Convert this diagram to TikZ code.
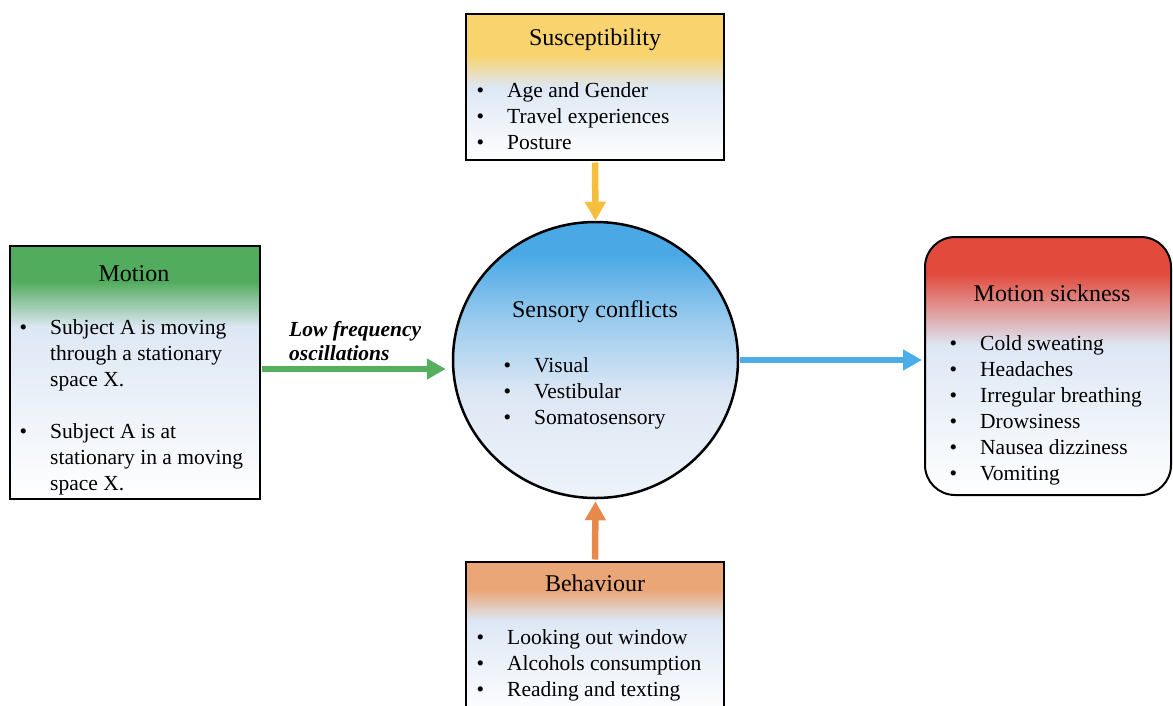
\documentclass[tikz,border=0pt]{standalone}
\usepackage{fontspec}
\setmainfont{Liberation Serif}
\usetikzlibrary{arrows.meta,shapes.geometric,positioning}

\definecolor{suscyellow}{HTML}{F9D46E}
\definecolor{motgreen}{HTML}{52AC5D}
\definecolor{sickred}{HTML}{E24A3C}
\definecolor{behorange}{HTML}{EAA677}
\definecolor{conflblue}{HTML}{4AA9E5}
\definecolor{paleblue}{HTML}{DDE7F4}
\definecolor{arryellow}{HTML}{F6BE3D}
\definecolor{arrorange}{HTML}{E8894C}
\definecolor{arrgreen}{HTML}{56AE5F}
\definecolor{arrblue}{HTML}{4CAEE9}

% box fills: colour band at the top, pale blue to white below
\pgfdeclareverticalshading{suscshade}{100bp}{color(0bp)=(white); color(25bp)=(white); color(50bp)=(paleblue); color(61bp)=(suscyellow); color(100bp)=(suscyellow)}
\pgfdeclareverticalshading{motionshade}{100bp}{color(0bp)=(white); color(25bp)=(white); color(59bp)=(paleblue); color(68bp)=(motgreen); color(100bp)=(motgreen)}
\pgfdeclareverticalshading{sickshade}{100bp}{color(0bp)=(white); color(25bp)=(white); color(54bp)=(paleblue); color(61bp)=(sickred!50!paleblue); color(68bp)=(sickred); color(100bp)=(sickred)}
\pgfdeclareverticalshading{behavshade}{100bp}{color(0bp)=(white); color(25bp)=(white); color(56bp)=(paleblue); color(66bp)=(behorange); color(100bp)=(behorange)}
\pgfdeclareverticalshading{conflshade}{100bp}{color(0bp)=(paleblue!50!white); color(25bp)=(paleblue!50!white); color(44bp)=(paleblue); color(57bp)=(conflblue!45!paleblue); color(69bp)=(conflblue); color(100bp)=(conflblue)}

\newcommand\bu{\llap{\textbullet\hspace{23pt}}}

\begin{document}
\begin{tikzpicture}[
    x=1pt, y=-1pt,
    box/.style={draw=black, line width=2pt, shade, inner sep=0pt},
    flow/.style={line width=6.5pt, -{Triangle[length=19pt,width=20pt]}},
    title/.style={font=\fontsize{24}{28}\selectfont, anchor=base, inner sep=0pt},
    entry/.style={font=\fontsize{21.5}{26}\selectfont, anchor=base west, inner sep=0pt}
    ]
\useasboundingbox (0,0) rectangle (1173,705);
\clip (0,0) rectangle (1173,705);

\node[box, shading=suscshade, minimum width=258pt, minimum height=146pt] (susc) at (595,87) {};
\node[box, shading=motionshade, minimum width=250pt, minimum height=253pt] (motion) at (135,372.5) {};
\node[box, ellipse, line width=2.5pt, shading=conflshade, minimum width=285pt, minimum height=276pt] (confl) at (595.5,360) {};
\node[box, rounded corners=30pt, shading=sickshade, minimum width=246pt, minimum height=258pt] (sick) at (1048,366) {};
\node[box, shading=behavshade, minimum width=258pt, minimum height=154pt] (behav) at (595,639) {};

\coordinate (g-start) at ([yshift=3.5pt]motion.east);
\draw[flow, arrgreen, shorten <=1pt, shorten >=6pt] (g-start) -- (g-start -| confl.west);
\draw[flow, arryellow, shorten <=1.5pt] (susc.south) -- (confl.north);
\draw[flow, arrorange, shorten <=1.5pt, shorten >=2pt] (behav.north) -- (confl.south);
\draw[flow, arrblue, shorten <=1pt, shorten >=2pt] (confl.east) -- (confl.east -| sick.west);

\node[font=\fontsize{21.5}{24}\selectfont\bfseries\itshape, align=left, anchor=north west, inner sep=0pt] (lowfreq) at (289,321.5) {Low frequency\\oscillations};

\node[title] (susc-title) at (595,45) {Susceptibility};
\node[title] (motion-title) at (134,281) {Motion};
\node[title] (confl-title) at (595,317) {Sensory conflicts};
\node[title] (sick-title) at (1052,301) {Motion sickness};
\node[title] (behav-title) at (595,591) {Behaviour};

\foreach \yy/\txt [count=\i] in {97/Age and Gender, 123/Travel experiences, 149/Posture}
  \node[entry] (susc-\i) at (507,\yy) {\bu\txt};
\foreach \yy/\txt [count=\i] in {334/\bu Subject A is moving, 360/through a stationary, 386/space X., 438/\bu Subject A is at, 464/stationary in a moving, 490/space X.}
  \node[entry] (motion-\i) at (50,\yy) {\txt};
\foreach \yy/\txt [count=\i] in {372/Visual, 398/Vestibular, 424/Somatosensory}
  \node[entry] (confl-\i) at (534,\yy) {\bu\txt};
\foreach \yy/\txt [count=\i] in {350/Cold sweating, 376/Headaches, 402/Irregular breathing, 428/Drowsiness, 454/Nausea dizziness, 480/Vomiting}
  \node[entry] (sick-\i) at (980,\yy) {\bu\txt};
\foreach \yy/\txt [count=\i] in {644/Looking out window, 670/Alcohols consumption, 696/Reading and texting}
  \node[entry] (behav-\i) at (507,\yy) {\bu\txt};
\end{tikzpicture}
\end{document}
